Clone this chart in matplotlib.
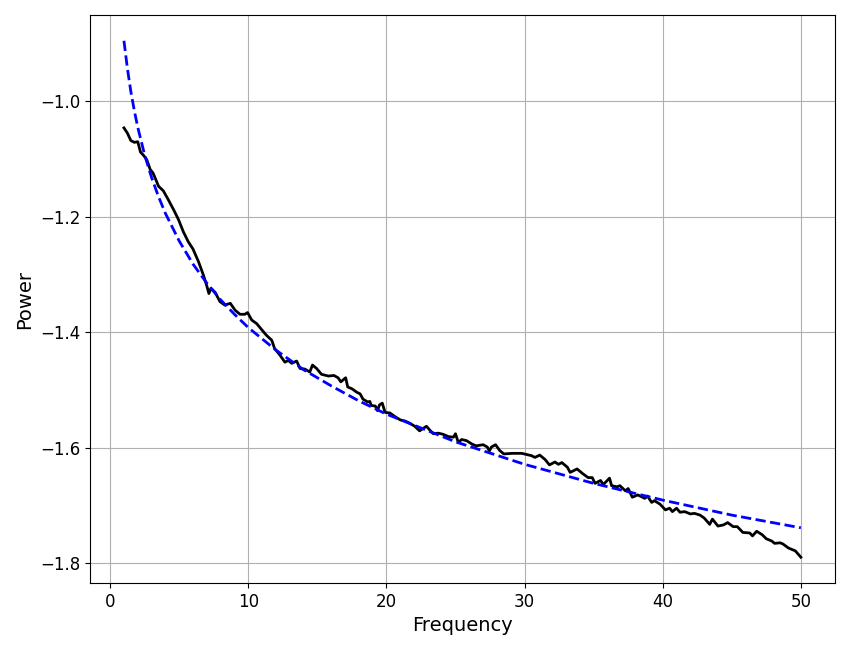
import matplotlib
matplotlib.use("Agg")
import matplotlib.pyplot as plt

# power spectrum (log10 power)
freqs = [1.0, 1.25, 1.5, 1.75, 2.0, 2.2, 2.4, 2.65, 2.9, 3.1, 3.35, 3.5, 3.85, 4.2, 4.6,
         4.95, 5.3, 5.65, 6.0, 6.4, 6.75, 7.0, 7.15, 7.3, 7.6, 7.95, 8.3, 8.7, 9.05, 9.4,
         9.75, 9.95, 10.25, 10.6, 10.95, 11.3, 11.7, 11.9, 12.3, 12.65, 12.9, 13.15, 13.5,
         13.75, 14.1, 14.45, 14.65, 14.95, 15.3, 15.8, 16.2, 16.5, 16.7, 16.9, 17.05, 17.2,
         17.5, 17.85, 18.1, 18.3, 18.65, 18.8, 18.9, 19.2, 19.35, 19.5, 19.7, 19.9, 20.25,
         20.6, 21.0, 21.35, 21.7, 22.05, 22.4, 22.65, 22.9, 23.15, 23.4, 23.75, 24.1, 24.5,
         24.85, 25.0, 25.2, 25.45, 25.8, 26.2, 26.5, 27.0, 27.3, 27.45, 27.6, 27.9, 28.2,
         28.5, 29.1, 29.8, 30.5, 30.75, 31.1, 31.5, 31.8, 32.2, 32.45, 32.7, 33.1, 33.3,
         33.8, 34.2, 34.6, 34.9, 35.1, 35.5, 35.7, 36.15, 36.3, 36.7, 36.9, 37.3, 37.5,
         37.8, 38.2, 38.7, 38.9, 39.2, 39.4, 39.8, 40.2, 40.5, 40.7, 41.0, 41.25, 41.6,
         42.0, 42.3, 42.7, 43.0, 43.4, 43.6, 44.0, 44.4, 44.7, 45.1, 45.4, 45.8, 46.3,
         46.5, 46.8, 47.2, 47.5, 47.9, 48.1, 48.5, 48.7, 49.1, 49.6, 50.0]
power = [-1.046, -1.055, -1.068, -1.071, -1.070, -1.088, -1.093, -1.101, -1.118, -1.124,
         -1.138, -1.147, -1.155, -1.170, -1.188, -1.205, -1.226, -1.243, -1.256, -1.278,
         -1.301, -1.320, -1.333, -1.324, -1.331, -1.347, -1.353, -1.350, -1.362, -1.369,
         -1.369, -1.366, -1.379, -1.385, -1.395, -1.405, -1.414, -1.428, -1.440, -1.452,
         -1.449, -1.454, -1.450, -1.463, -1.464, -1.469, -1.457, -1.463, -1.473, -1.476,
         -1.475, -1.479, -1.486, -1.482, -1.479, -1.495, -1.498, -1.504, -1.507, -1.516,
         -1.521, -1.520, -1.527, -1.528, -1.536, -1.526, -1.523, -1.539, -1.540, -1.546,
         -1.552, -1.554, -1.558, -1.563, -1.571, -1.567, -1.563, -1.570, -1.576, -1.575,
         -1.577, -1.581, -1.582, -1.576, -1.591, -1.586, -1.588, -1.594, -1.597, -1.595,
         -1.599, -1.606, -1.599, -1.595, -1.605, -1.611, -1.610, -1.610, -1.614, -1.617,
         -1.613, -1.621, -1.630, -1.625, -1.629, -1.626, -1.634, -1.643, -1.637, -1.645,
         -1.652, -1.652, -1.662, -1.657, -1.664, -1.653, -1.666, -1.668, -1.666, -1.675,
         -1.671, -1.686, -1.682, -1.688, -1.684, -1.695, -1.692, -1.698, -1.708, -1.705,
         -1.711, -1.705, -1.712, -1.711, -1.715, -1.714, -1.717, -1.722, -1.733, -1.724,
         -1.736, -1.734, -1.730, -1.737, -1.737, -1.747, -1.748, -1.753, -1.745, -1.751,
         -1.758, -1.762, -1.766, -1.765, -1.767, -1.774, -1.779, -1.790]

# aperiodic fit (dashed blue)
fit_freqs = [1.0, 1.25, 1.5, 1.75, 2.0, 2.5, 3.0, 3.5, 4.0, 5.0, 6.0, 7.0, 8.0, 9.0, 10.0,
             12.0, 14.0, 16.0, 18.0, 20.0, 25.0, 30.0, 35.0, 40.0, 45.0, 50.0]
fit_power = [-0.895, -0.943, -0.983, -1.016, -1.045, -1.093, -1.132, -1.165, -1.194, -1.242,
             -1.282, -1.315, -1.344, -1.369, -1.392, -1.431, -1.465, -1.493, -1.519, -1.542,
             -1.590, -1.629, -1.662, -1.691, -1.717, -1.739]

fig, ax = plt.subplots(figsize=(8.5, 6.5), dpi=100)
fig.subplots_adjust(left=0.106, right=0.982, bottom=0.103, top=0.977)

ax.plot(freqs, power, color="black", linewidth=2)
ax.plot(fit_freqs, fit_power, color="blue", linestyle="--", linewidth=2)

ax.set_xlabel("Frequency", fontsize=14)
ax.set_ylabel("Power", fontsize=14)
ax.tick_params(labelsize=12)
ax.grid(True)

plt.savefig("out.png")
